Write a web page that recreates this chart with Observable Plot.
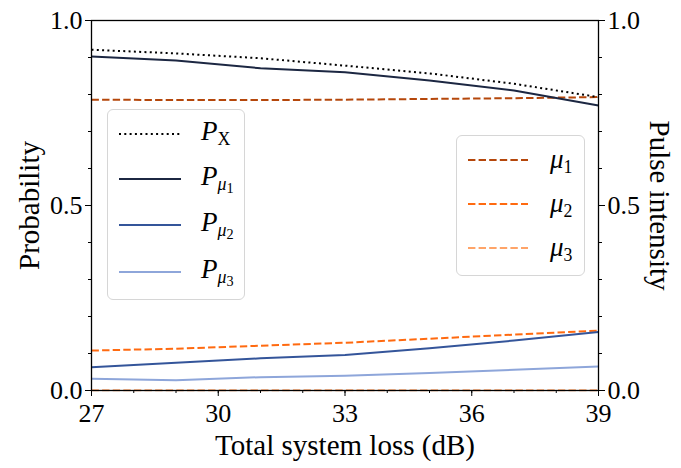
<!DOCTYPE html>
<html>
<head>
<meta charset="utf-8">
<script src="https://cdn.jsdelivr.net/npm/d3@7"></script>
<script src="https://cdn.jsdelivr.net/npm/@observablehq/plot@0.6"></script>
<style>
  html, body { margin: 0; padding: 0; background: white; }
  #wrap { position: relative; width: 681px; height: 468px; font-family: "Liberation Serif", "DejaVu Serif", serif; }
  .legend { position: absolute; border: 1.5px solid #d6d6d6; border-radius: 6px; background: rgba(255,255,255,0.85); box-sizing: border-box; }
  .lab { position: absolute; font-size: 27px; font-style: italic; line-height: 1; white-space: nowrap; }
  .lab sub { font-size: 0.66em; font-style: italic; vertical-align: -0.3em; }
  .lab sub sub { font-size: 0.8em; font-style: normal; vertical-align: -0.2em; }
  .lab sub.up { font-style: normal; }
</style>
</head>
<body>
<div id="wrap"></div>
<script>
// Data
const loss = [27, 29, 31, 33, 35, 37, 39];
const pX   = [0.921, 0.911, 0.898, 0.878, 0.857, 0.829, 0.793];
const pMu1 = [0.903, 0.892, 0.871, 0.860, 0.838, 0.811, 0.770];
const pMu2 = [0.063, 0.075, 0.087, 0.096, 0.114, 0.135, 0.158];
const pMu3 = [0.032, 0.028, 0.036, 0.040, 0.047, 0.056, 0.065];
const mu1  = [0.786, 0.785, 0.785, 0.786, 0.788, 0.790, 0.793];
const mu2  = [0.108, 0.113, 0.121, 0.129, 0.140, 0.151, 0.162];
const mu3  = [0.001, 0.001, 0.001, 0.001, 0.001, 0.001, 0.001];
const xTicks = [27, 30, 33, 36, 39];
const yTicks = [0, 0.5, 1];

const series = [
  {name: "PX",   values: pX,   color: "#000000", dash: "2,3.3"},
  {name: "Pmu1", values: pMu1, color: "#1c2742", dash: null},
  {name: "Pmu2", values: pMu2, color: "#34559a", dash: null},
  {name: "Pmu3", values: pMu3, color: "#8ea6da", dash: null},
  {name: "mu1",  values: mu1,  color: "#b5470b", dash: "7.4,3.2"},
  {name: "mu2",  values: mu2,  color: "#ff6a10", dash: "7.4,3.2"},
  {name: "mu3",  values: mu3,  color: "#ffa468", dash: "7.4,3.2"}
];

const lineMarks = series.map(s =>
  Plot.line(loss.map((x, i) => ({x, y: s.values[i]})), {
    x: "x", y: "y", stroke: s.color, strokeWidth: 2,
    strokeDasharray: s.dash || undefined, strokeLinecap: "butt"
  })
);

const minorX = d3.range(27, 39.01, 1);
const minorY = d3.range(0, 1.001, 0.1);

const chart = Plot.plot({
  width: 681, height: 468,
  marginLeft: 91, marginRight: 83, marginTop: 20, marginBottom: 78,
  x: {domain: [27, 39]},
  y: {domain: [0, 1]},
  style: {fontFamily: "Liberation Serif, DejaVu Serif, serif", fontSize: "26px", color: "black", background: "white", overflow: "visible"},
  marks: [
    ...lineMarks.slice(4).reverse(),
    ...lineMarks.slice(0, 4).reverse(),
    Plot.frame({stroke: "black", strokeWidth: 1.3}),
    Plot.axisX({ticks: minorX, tickSize: 3, tickFormat: () => "", label: null}),
    Plot.axisX({ticks: xTicks, tickSize: 6, tickPadding: 7, tickFormat: d => String(d), label: null, fontSize: 26}),
    Plot.axisY({anchor: "left", ticks: minorY, tickSize: 3, tickFormat: () => "", label: null}),
    Plot.axisY({anchor: "left", ticks: yTicks, tickSize: 6, tickPadding: 3, tickFormat: d3.format(".1f"), label: null, fontSize: 26}),
    Plot.axisY({anchor: "right", ticks: minorY, tickSize: 3, tickFormat: () => "", label: null}),
    Plot.axisY({anchor: "right", ticks: yTicks, tickSize: 6, tickPadding: 3, tickFormat: d3.format(".1f"), label: null, fontSize: 26}),
    Plot.text(["Probability"], {frameAnchor: "left", dx: -62, rotate: -90, fontSize: 29, textAnchor: "middle", lineAnchor: "middle"}),
    Plot.text(["Pulse intensity"], {frameAnchor: "right", dx: 61, rotate: 90, fontSize: 29, textAnchor: "middle", lineAnchor: "middle"}),
    Plot.text(["Total system loss (dB)"], {frameAnchor: "bottom", dy: 55, fontSize: 29, textAnchor: "middle", lineAnchor: "middle"})
  ]
});

const wrap = document.getElementById("wrap");
wrap.appendChild(chart);

function sample(color, dash, w) {
  return `<svg width="${w}" height="6" style="display:block"><line x1="0" y1="3" x2="${w}" y2="3" stroke="${color}" stroke-width="2.2" ${dash ? `stroke-dasharray="${dash}"` : ""}/></svg>`;
}

// Left legend
const leftLabels = [
  `P<sub class="up">X</sub>`,
  `P<sub>μ<sub>1</sub></sub>`,
  `P<sub>μ<sub>2</sub></sub>`,
  `P<sub>μ<sub>3</sub></sub>`
];
const leftBox = document.createElement("div");
leftBox.className = "legend";
Object.assign(leftBox.style, {left: "107px", top: "109px", width: "138px", height: "191px"});
const leftYs = [133, 178, 224, 271];
series.slice(0, 4).forEach((s, i) => {
  const ln = document.createElement("div");
  Object.assign(ln.style, {position: "absolute", left: (118 - 107) + "px", top: (leftYs[i] - 109 - 3) + "px"});
  ln.innerHTML = sample(s.color, s.dash, 62);
  leftBox.appendChild(ln);
  const lb = document.createElement("div");
  lb.className = "lab";
  Object.assign(lb.style, {left: (200 - 107) + "px", top: (leftYs[i] - 109 - 16) + "px"});
  lb.innerHTML = leftLabels[i];
  leftBox.appendChild(lb);
});
wrap.appendChild(leftBox);

// Right legend
const rightLabels = [`μ<sub class="up">1</sub>`, `μ<sub class="up">2</sub>`, `μ<sub class="up">3</sub>`];
const rightBox = document.createElement("div");
rightBox.className = "legend";
Object.assign(rightBox.style, {left: "456px", top: "135px", width: "129px", height: "141px"});
const rightYs = [159, 203, 247];
series.slice(4).forEach((s, i) => {
  const ln = document.createElement("div");
  Object.assign(ln.style, {position: "absolute", left: (467 - 456) + "px", top: (rightYs[i] - 135 - 3) + "px"});
  ln.innerHTML = sample(s.color, s.dash, 60);
  rightBox.appendChild(ln);
  const lb = document.createElement("div");
  lb.className = "lab";
  Object.assign(lb.style, {left: (549 - 456) + "px", top: (rightYs[i] - 135 - 14) + "px"});
  lb.innerHTML = rightLabels[i];
  rightBox.appendChild(lb);
});
wrap.appendChild(rightBox);
</script>
</body>
</html>
